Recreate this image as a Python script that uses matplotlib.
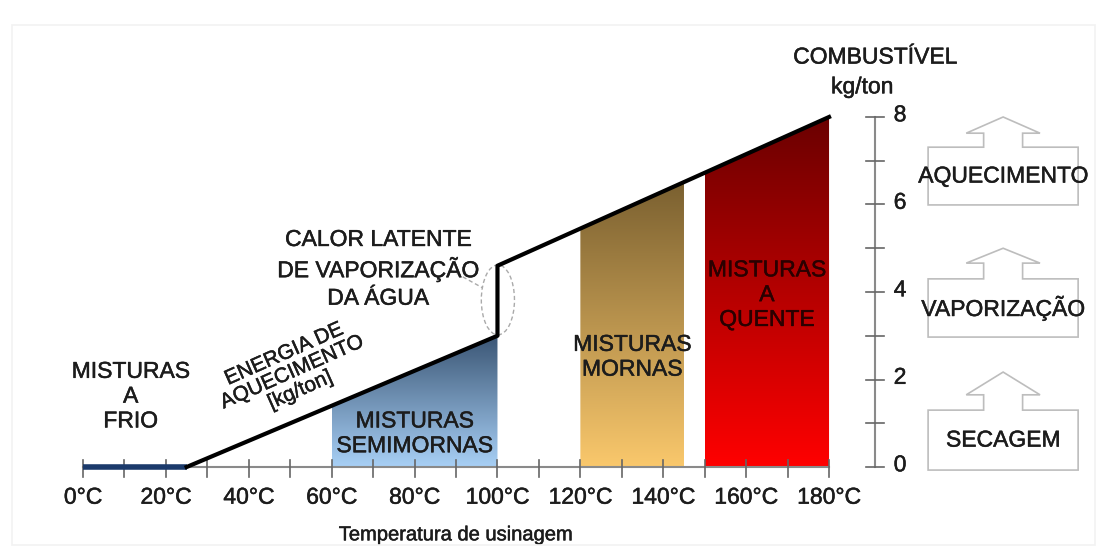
import numpy as np
import matplotlib
matplotlib.use("Agg")
import matplotlib.pyplot as plt
import matplotlib.patheffects as pe
from matplotlib.colors import LinearSegmentedColormap
from matplotlib.patches import Polygon, Ellipse, Rectangle

plt.rcParams['font.family'] = ['Liberation Sans', 'DejaVu Sans']

# temperature (degC) vs fuel consumption (kg/ton)
line_temp = [25, 100, 100, 180]
line_fuel = [0.0, 3.0, 4.6, 8.0]

frio_range = [0, 25]
bands = [
    # (start, end, bottom colour, top colour)
    (60, 100, '#a8d0f6', '#3a5574'),
    (120, 145, '#fac86c', '#7a6030'),
    (150, 180, '#ff0000', '#6a0000'),
]

xticks = [0, 20, 40, 60, 80, 100, 120, 140, 160, 180]
yticks = [0, 2, 4, 6, 8]

TXT = '#1c1c1c'
GRID = '#8a8a8a'
FS = 16.5


def fuel_at(x):
    if x <= 100:
        return np.interp(x, line_temp[:2], line_fuel[:2])
    return np.interp(x, line_temp[2:], line_fuel[2:])


def label(x, y, s, size=FS, color=TXT, **kw):
    t = ax.text(x, y, s, ha=kw.pop('ha', 'center'), va='center', fontsize=size,
                color=color, **kw)
    t.set_path_effects([pe.withStroke(linewidth=0.35, foreground=color)])
    return t


fig = plt.figure(figsize=(11.03, 5.49), dpi=100)
ax = fig.add_axes([0, 0, 1, 1])
ax.axis('off')

# faint frame of the scanned figure
fig.add_artist(Rectangle((12 / 1103, 4 / 549), 1083 / 1103, 520 / 549,
                         transform=fig.transFigure, fill=False,
                         edgecolor='#f2f2f2', lw=1.2))

# gradient bands clipped under the fuel line
grad = np.linspace(0, 1, 256).reshape(-1, 1)
for x0, x1, cbot, ctop in bands:
    ytop = max(fuel_at(x0), fuel_at(x1))
    cmap = LinearSegmentedColormap.from_list('b', [cbot, ctop])
    im = ax.imshow(grad, extent=[x0, x1, 0, ytop], origin='lower',
                   cmap=cmap, aspect='auto', zorder=1)
    poly = Polygon([(x0, 0), (x0, fuel_at(x0)), (x1, fuel_at(x1)), (x1, 0)],
                   closed=True, facecolor='none', edgecolor='none')
    ax.add_patch(poly)
    im.set_clip_path(poly)

# x axis
ax.plot([0, 180], [0, 0], color=GRID, lw=1.5, zorder=2)
for t in range(0, 181, 10):
    ax.plot([t, t], [-0.22, 0.16], color='#666666', lw=1.2, zorder=4)
for t in xticks:
    label(t, -0.69, f'{t}°C')
label(90, -1.55, 'Temperatura de usinagem', size=14.5)

# cold mix line and fuel line
ax.plot(frio_range, [0, 0], color='#1b3a6b', lw=4, solid_capstyle='butt', zorder=5)
ax.plot(line_temp, line_fuel, color='black', lw=3, zorder=6)

# right fuel axis
yx = 191.1
ax.plot([yx, yx], [0, 8], color=GRID, lw=1.5)
for v in range(0, 9):
    ax.plot([yx - 2.2, yx + 2.2], [v, v], color='#666666', lw=1.2)
for v in yticks:
    label(yx + 4.5, v + 0.05, str(v), ha='left')
label(yx, 9.37, 'COMBUSTÍVEL')
label(188, 8.69, 'kg/ton')

# latent heat annotation
ax.add_patch(Ellipse((100.1, 3.82), 8, 1.6, fill=False, ls=(0, (3, 2)),
                     edgecolor='#aaaaaa', lw=1))
ax.plot([88.7, 96.3], [4.5, 4.1], ls=(0, (3, 2)), color='#aaaaaa', lw=1)
label(71.2, 4.53, 'CALOR LATENTE\nDE VAPORIZAÇÃO\nDA ÁGUA', linespacing=1.25)

label(50.5, 2.17, 'ENERGIA DE\nAQUECIMENTO\n[kg/ton]', size=15, rotation=24,
      linespacing=1.05, rotation_mode='anchor')

# mix labels
label(11.5, 1.62, 'MISTURAS\nA\nFRIO', linespacing=1.1)
label(80, 0.77, 'MISTURAS\nSEMIMORNAS', linespacing=1.1)
label(132.5, 2.52, 'MISTURAS\nMORNAS', linespacing=1.1)
label(165, 3.94, 'MISTURAS\nA\nQUENTE', color='#2a0000', linespacing=1.1)

# process arrows on the right
cx, hw, sw, aw = 222.0, 18.1, 4.7, 8.9
boxes = [
    ('AQUECIMENTO', 5.99, 7.31, 7.63, 8.0),
    ('VAPORIZAÇÃO', 2.97, 4.30, 4.66, 5.0),
    ('SECAGEM', -0.07, 1.30, 1.65, 2.17),
]
for name, yb, yt, ys, ya in boxes:
    pts = [(cx - hw, yb), (cx + hw, yb), (cx + hw, yt), (cx + sw, yt), (cx + sw, ys),
           (cx + aw, ys), (cx, ya), (cx - aw, ys), (cx - sw, ys), (cx - sw, yt),
           (cx - hw, yt)]
    ax.add_patch(Polygon(pts, closed=True, fill=False, edgecolor='#bdbdbd', lw=1.2))
    label(cx, (yb + yt) / 2, name)

ax.set_xlim(-20.03, 246.1)
ax.set_ylim(-1.874, 10.674)

fig.savefig('out.png', dpi=100, facecolor='white')
